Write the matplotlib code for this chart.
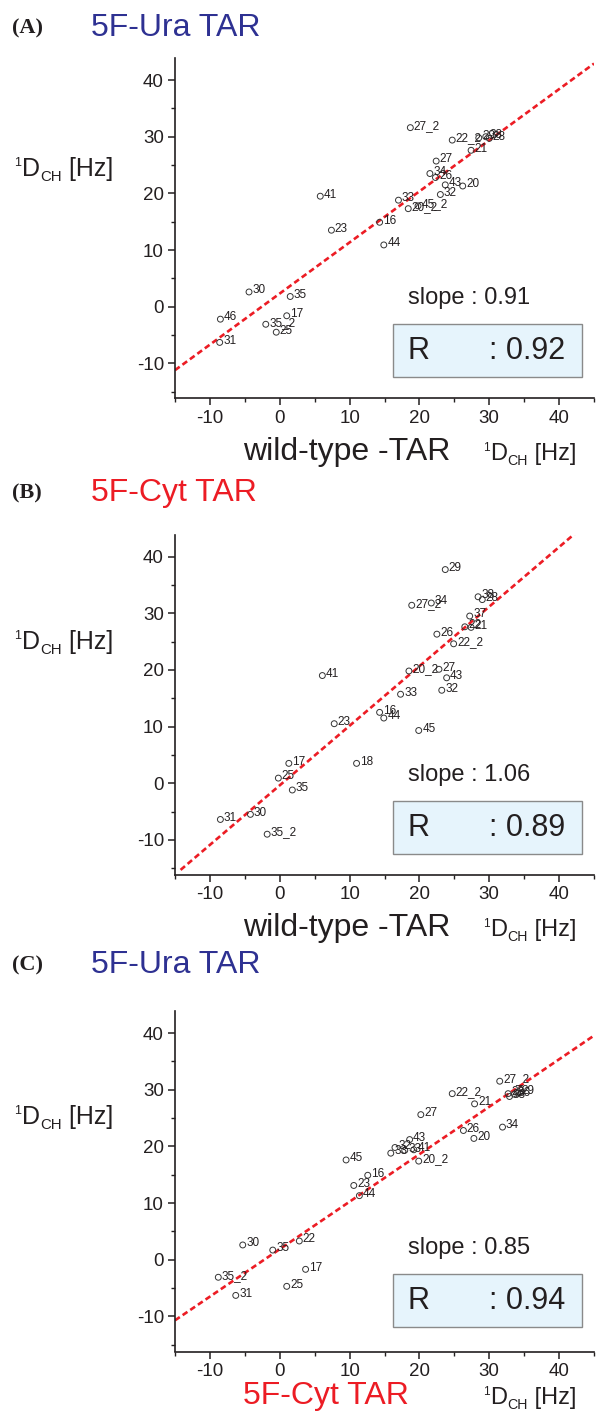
import matplotlib
matplotlib.use("Agg")
import matplotlib.pyplot as plt
from matplotlib.patches import FancyBboxPatch

plt.rcParams['font.family'] = ['Liberation Sans', 'DejaVu Sans']
plt.rcParams['axes.unicode_minus'] = False

# (A) 5F-Ura TAR vs wild-type TAR
a_x = [18.7, 24.7, 28.5, 29.5, 30.0, 27.4, 22.4, 21.5, 22.3, 23.7, 26.2, 23.0, 5.8, 17.0,
       18.4, 19.8, 14.3, 7.4, 14.9, -4.4, 1.5, -8.5, 1.0, -2.0, -0.5, -8.6]
a_y = [31.6, 29.4, 29.8, 30.0, 29.7, 27.6, 25.7, 23.5, 22.8, 21.5, 21.3, 19.8, 19.5, 18.8,
       17.3, 17.8, 14.9, 13.5, 10.9, 2.6, 1.8, -2.2, -1.6, -3.1, -4.5, -6.3]
a_lab = ["27_2", "22_2", "29", "38", "28", "21", "27", "34", "26", "43", "20", "32", "41", "33",
         "20_2", "45_2", "16", "23", "44", "30", "35", "46", "17", "35_2", "25", "31"]
a_line_x = [-15, 45]
a_line_y = [-11.2, 42.9]

# (B) 5F-Cyt TAR vs wild-type TAR
b_x = [23.7, 18.9, 21.7, 28.4, 29.0, 27.2, 26.5, 27.4, 22.5, 24.9, 6.1, 18.5, 22.8, 23.9,
       17.3, 23.2, 14.3, 14.9, 19.9, 7.8, 1.3, -0.2, 1.8, 11.0, -8.5, -4.2, -1.8]
b_y = [37.7, 31.4, 31.8, 32.9, 32.4, 29.5, 27.6, 27.5, 26.3, 24.6, 19.0, 19.8, 20.1, 18.6,
       15.7, 16.4, 12.5, 11.5, 9.3, 10.5, 3.5, 0.9, -1.2, 3.5, -6.4, -5.5, -9.0]
b_lab = ["29", "27_2", "34", "38", "28", "37", "22", "21", "26", "22_2", "41", "20_2", "27", "43",
         "33", "32", "16", "44", "45", "23", "17", "25", "35", "18", "31", "30", "35_2"]
b_line_x = [-14.2, 42.5]
b_line_y = [-15.3, 44.3]

# (C) 5F-Ura TAR vs 5F-Cyt TAR
c_x = [31.5, 32.7, 32.9, 33.6, 34.1, 24.7, 27.9, 20.2, 26.3, 27.8, 31.9, 18.6, 16.5, 15.9,
       17.9, 19.2, 19.9, 9.5, 12.6, 10.6, 11.4, -5.3, -1.0, 2.8, 3.7, -8.8, 1.0, -6.3]
c_y = [31.5, 29.3, 28.8, 29.2, 29.4, 29.3, 27.5, 25.6, 22.8, 21.4, 23.4, 21.2, 19.8, 18.8,
       19.3, 19.4, 17.4, 17.6, 14.9, 13.1, 11.3, 2.6, 1.7, 3.3, -1.7, -3.1, -4.7, -6.3]
c_lab = ["27_2", "28", "38", "36", "29", "22_2", "21", "27", "26", "20", "34", "43", "32", "33",
         "33", "41", "20_2", "45", "16", "23", "44", "30", "35", "22", "17", "35_2", "25", "31"]
c_line_x = [-15, 45.3]
c_line_y = [-10.7, 39.8]

slopes = ["0.91", "1.06", "0.85"]
r_vals = ["0.92", "0.89", "0.94"]
letters = ["(A)", "(B)", "(C)"]
titles = ["5F-Ura TAR", "5F-Cyt TAR", "5F-Ura TAR"]
xnames = ["wild-type -TAR", "wild-type -TAR", "5F-Cyt TAR"]

BLUE = "#2e3192"
RED = "#ec1c24"
INK = "#231f20"
title_col = [BLUE, RED, BLUE]
xname_col = [INK, INK, RED]

W, H = 602, 1414
fig = plt.figure(figsize=(W / 100, H / 100), dpi=100)
renderer = fig.canvas.get_renderer()

# pixel layout of each panel
panels = [
    dict(bot=398.5, title=28, ylab=176, slope=298, box=324, xlab=460),
    dict(bot=875.0, title=493, ylab=649, slope=775, box=801, xlab=936),
    dict(bot=1351.5, title=965, ylab=1124, slope=1248, box=1274, xlab=1404),
]
data = [(a_x, a_y, a_lab, a_line_x, a_line_y),
        (b_x, b_y, b_lab, b_line_x, b_line_y),
        (c_x, c_y, c_lab, c_line_x, c_line_y)]

def fx(px):
    return px / W

def fy(py):
    return 1 - py / H

def unit_label(px, py, size):
    # 1D_CH [Hz] with a small raised "1" and small lowered "CH", py = baseline
    parts = [("1", 0.5, -0.55), ("D", 1.0, 0.0), ("CH", 0.6, 0.3), (" [Hz]", 1.0, 0.0)]
    x = px
    for txt, scale, dy in parts:
        t = fig.text(fx(x), fy(py + dy * size), txt, fontsize=size * scale,
                     va='baseline', ha='left', color=INK)
        x += t.get_window_extent(renderer).width + 0.5

for i, p in enumerate(panels):
    xs, ys, labs, lx, ly = data[i]
    ax = fig.add_axes([fx(175), fy(p["bot"]), 419 / W, 340 / H])
    ax.set_xlim(-15, 45)
    ax.set_ylim(-16.2, 43.8)
    ax.spines['top'].set_visible(False)
    ax.spines['right'].set_visible(False)
    for s in ['left', 'bottom']:
        ax.spines[s].set_linewidth(1.2)
        ax.spines[s].set_color(INK)
    ax.set_xticks([-10, 0, 10, 20, 30, 40])
    ax.set_yticks([-10, 0, 10, 20, 30, 40])
    ax.set_xticks([-15, -5, 5, 15, 25, 35, 45], minor=True)
    ax.set_yticks([-15, -5, 5, 15, 25, 35], minor=True)
    ax.tick_params(which='major', direction='out', length=5, width=1.1, labelsize=13.5,
                   colors=INK, pad=3)
    ax.tick_params(which='minor', direction='out', length=3, width=1.0, colors=INK)
    ax.patch.set_alpha(0)

    ax.plot(lx, ly, color=RED, lw=1.9, dashes=(2.2, 1.3), zorder=2)
    ax.scatter(xs, ys, s=18, facecolors='none', edgecolors="#333333", linewidths=0.7, zorder=3)
    for x, y, t in zip(xs, ys, labs):
        ax.annotate(t, (x, y), xytext=(2.5, 1.2), textcoords='offset points',
                    fontsize=8.5, color=INK, ha='left', va='center', zorder=4)

    # headings
    fig.text(fx(12), fy(p["title"]), letters[i], fontsize=16, fontweight='bold',
             family='Liberation Serif', va='center', ha='left', color=INK)
    fig.text(fx(91), fy(p["title"]), titles[i], fontsize=23, color=title_col[i],
             va='center', ha='left')
    unit_label(14, p["ylab"], 18)

    # x label
    fig.text(fx(243), fy(p["xlab"]), xnames[i], fontsize=23, color=xname_col[i],
             va='baseline', ha='left')
    unit_label(483, p["xlab"], 17)

    # slope text and R box
    fig.text(fx(408), fy(p["slope"]), "slope : " + slopes[i], fontsize=17,
             va='center', ha='left', color=INK)
    box = FancyBboxPatch((fx(393), fy(p["box"] + 53)), 189 / W, 53 / H,
                         boxstyle="square,pad=0", transform=fig.transFigure,
                         facecolor="#e6f4fc", edgecolor="#8a8a8a", lw=1.0)
    fig.patches.append(box)
    fig.text(fx(407), fy(p["box"] + 27), "R", fontsize=22, va='center', ha='left',
             color=INK)
    fig.text(fx(489), fy(p["box"] + 27), ": " + r_vals[i], fontsize=22, va='center',
             ha='left', color=INK)

fig.savefig("out.png", dpi=100)
